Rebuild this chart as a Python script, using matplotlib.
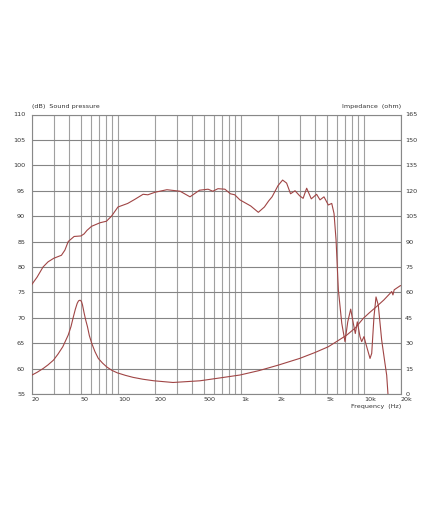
import matplotlib.pyplot as plt
import numpy as np

# sound pressure (dB) vs frequency (Hz)
spl_freq = [20, 22, 24.6, 27, 30, 34.7, 37, 39.4, 44, 50, 53, 56, 61, 71.5, 80.6, 88.6,
            100, 120, 137, 160, 175, 200, 250, 320, 385, 460, 540, 590, 650, 740, 820,
            890, 980, 1200, 1384, 1550, 1680, 1790, 2000, 2180, 2350, 2530, 2750, 3000,
            3200, 3420, 3730, 4120, 4390, 4730, 5130, 5470, 5710, 5930, 6190, 6600, 7010,
            7380, 7800, 8190, 8500, 8830, 9280, 9580, 10000, 10330, 11200, 11560, 12060,
            12530, 13070, 13930, 14820, 15300, 15770]
spl_db = [76.6, 78.0, 80.0, 81.0, 81.7, 82.3, 83.3, 85.0, 86.0, 86.1, 86.5, 87.2, 88.0,
          88.7, 89.0, 90.0, 91.8, 92.5, 93.3, 94.3, 94.2, 94.7, 95.2, 94.9, 93.8, 95.1,
          95.3, 94.9, 95.4, 95.3, 94.4, 94.2, 93.2, 92.0, 90.75, 91.8, 93.0, 93.8, 96.0,
          97.1, 96.5, 94.4, 95.0, 94.0, 93.5, 95.5, 93.4, 94.3, 93.2, 93.8, 92.2, 92.5,
          90.5, 85.3, 75.5, 68.9, 65.3, 69.2, 71.7, 68.9, 66.9, 69.2, 66.3, 65.3, 66.3,
          65.0, 62.0, 63.0, 70.2, 74.1, 72.5, 65.6, 61.0, 58.7, 54.0]

# impedance (ohm) vs frequency (Hz)
imp_freq = [20, 22, 24.7, 27, 29.9, 32.5, 35.6, 39.4, 41.5, 43.4, 45, 46.6, 47.8, 49.2,
            50.5, 51.5, 53, 54.5, 56.5, 58.5, 61.2, 65, 69.2, 75, 81, 89, 98.7, 115, 133,
            160, 196, 280, 464, 676, 980, 1400, 2000, 3000, 4000, 5130, 6000, 7250, 8500,
            9860, 11000, 12600, 14500, 16300, 16800, 17200, 17600, 19700, 20000]
imp_ohm = [11.2, 12.8, 15.1, 17.2, 20, 23.5, 27.9, 34.8, 39.8, 45.6, 50, 53.5, 55.0, 55.4,
           54.6, 52.5, 48, 44, 39.7, 34.5, 29.9, 25, 21, 18.2, 16, 14, 12.5, 11, 9.8,
           8.7, 7.8, 6.8, 7.8, 9.5, 11.2, 13.8, 17, 21, 24.5, 27.9, 31, 34.8, 39,
           44.6, 47.8, 51.5, 55.5, 59.4, 60.5, 58.5, 61.5, 63.9, 64]

x_ticks = [20, 50, 100, 200, 500, 1000, 2000, 5000, 10000, 20000]
x_labels = ['20', '50', '100', '200', '500', '1k', '2k', '5k', '10k', '20k']

grid_freqs = [m * 10 ** e for e in range(1, 5) for m in range(1, 10)]
grid_freqs = [f for f in grid_freqs if 20 <= f <= 20000] + [20000]

line_col = '#a04545'
fs = 4.6

fig = plt.figure(figsize=(4.32, 5.13), dpi=100)
ax = fig.add_axes([32 / 432, 1 - 394 / 513, 369 / 432, 279.5 / 513])
ax.set_xscale('log')
ax.set_xlim(20, 20000)
ax.set_ylim(55, 110)

for f in grid_freqs:
    ax.axvline(f, color='#a0a0a0', lw=0.8, zorder=1)
for v in range(55, 111, 5):
    ax.axhline(v, color='#858585', lw=0.8, zorder=1)

ax.plot(spl_freq, spl_db, color=line_col, lw=0.8, zorder=3, clip_on=True)

ax.set_xticks(x_ticks)
ax.set_xticklabels(x_labels)
ax.xaxis.set_minor_locator(plt.NullLocator())
ax.set_yticks(range(55, 111, 5))
ax.tick_params(axis='both', length=0, labelsize=fs, colors='#333333', pad=5)
for lab in ax.get_xticklabels():
    lab.set_horizontalalignment('left')
ax.tick_params(axis='x', pad=2)

for s in ax.spines.values():
    s.set_color('#888888')
    s.set_linewidth(0.8)

ax2 = ax.twinx()
ax2.set_ylim(0, 165)
ax2.set_yticks(range(0, 166, 15))
ax2.tick_params(axis='y', length=0, labelsize=fs, colors='#333333', pad=3)
ax2.plot(imp_freq, imp_ohm, color=line_col, lw=0.8, zorder=3)
for s in ax2.spines.values():
    s.set_visible(False)

ax.text(0.0, 1.02, '(dB)  Sound pressure', transform=ax.transAxes, fontsize=fs,
        color='#333333', ha='left', va='bottom')
ax.text(1.0, 1.02, 'Impedance  (ohm)', transform=ax.transAxes, fontsize=fs,
        color='#333333', ha='right', va='bottom')
ax.text(1.0, -0.035, 'Frequency  (Hz)', transform=ax.transAxes, fontsize=fs,
        color='#333333', ha='right', va='top')

fig.savefig('out.png', dpi=100, facecolor='white')
